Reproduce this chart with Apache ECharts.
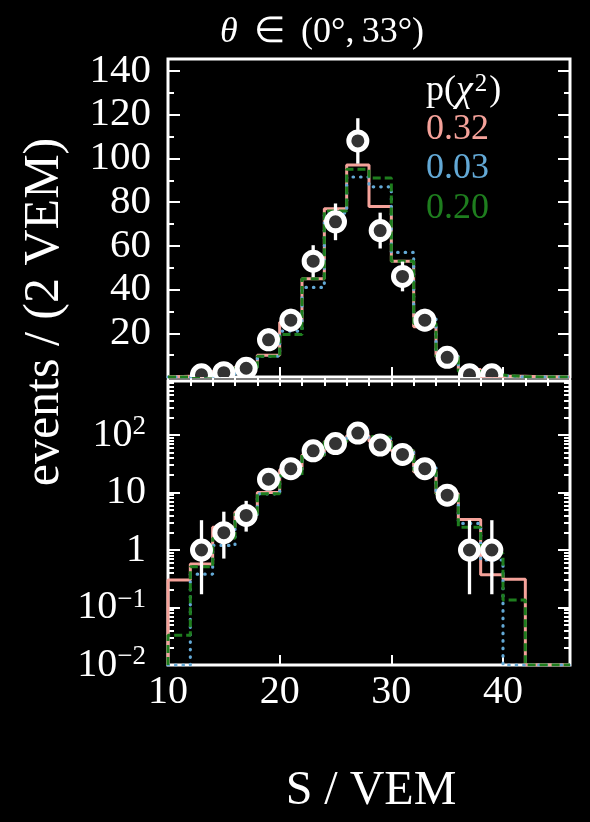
<!DOCTYPE html>
<html>
<head>
<meta charset="utf-8">
<script src="https://cdn.jsdelivr.net/npm/echarts@6/dist/echarts.min.js"></script>
<style>
html,body{margin:0;padding:0;background:#000;}
#c{width:590px;height:822px;}
</style>
</head>
<body>
<div id="c"></div>
<script>
// ---- data ----
const binEdges = [10,12,14,16,18,20,22,24,26,28,30,32,34,36,38,40,42,44,46];
// model histograms (events per 2 VEM bin)
const modelRed   = [0.30,0.57,2.5,4.6,10,25,45,77,97,78,53,23,9.5,3.4,0.37,0.31,0,0];   // p = 0.32
const modelBlue  = [0,0.38,1.2,3.6,9.5,21,41,75,91.5,87,57,27,10,2.9,0.67,0,0,0];      // p = 0.03
const modelGreen = [0.033,0.51,1.6,4.2,9.5,19.5,45,76,95,91,53,24.5,9.5,2.5,0.88,0.135,0,0]; // p = 0.20
// data points
const sCenters = [13,15,17,19,21,23,25,27,29,31,33,35,37,39];
const counts   = [1,2,4,17,26,53,71,108,67,46,26,9,1,1];
const errLow   = [0.17,0.71,2.09,13.0,21.0,45.7,62.6,97.6,58.8,39.2,21.0,6.1,0.17,0.17];
const errHigh  = [3.3,4.64,7.16,22.2,31.2,60.3,79.4,118.4,75.2,52.8,31.2,13.1,3.3,3.3];
const pValues  = ['0.32','0.03','0.20'];
const linTicks = [20,40,60,80,100,120,140];
const xTickLabels = [10,20,30,40];

const FONT = 'Liberation Serif';
const RED = '#f5a29a', BLUE = '#63a9d6', GREEN = '#1e7d1e';
const LOG_MIN = 0.01, LOG_MAX = 870;

function stepData(vals, floor) {
  const pts = [[binEdges[0], floor]];
  for (let i = 0; i < vals.length; i++) {
    const v = vals[i] > 0 ? vals[i] : floor;
    pts.push([binEdges[i], v]);
    pts.push([binEdges[i+1], v]);
  }
  return pts;
}
function pointData() {
  return sCenters.map((x, i) => [x, counts[i], errLow[i], errHigh[i]]);
}

const chart = echarts.init(document.getElementById('c'), null, {renderer: 'canvas'});

const tickStyle = {color: '#fff', width: 2};
function xMain(grid, labels) {
  return {type: 'value', gridIndex: grid, min: 10, max: 46, interval: 10,
    axisLine: {show: false}, splitLine: {show: false},
    axisTick: {show: true, inside: true, length: 10, lineStyle: tickStyle},
    axisLabel: {show: labels, color: '#fff', fontFamily: FONT, fontSize: 40, margin: 7,
      showMaxLabel: false,
      formatter: v => (xTickLabels.indexOf(v) >= 0 ? String(v) : '')}};
}
function xMinor(grid) {
  return {type: 'value', gridIndex: grid, min: 10, max: 46, interval: 2,
    axisLine: {show: false}, splitLine: {show: false}, axisLabel: {show: false},
    axisTick: {show: true, inside: true, length: 5, lineStyle: tickStyle}};
}
function yLin(pos, interval, len, labels) {
  return {type: 'value', gridIndex: 0, position: pos, min: 0, max: 145.5, interval: interval,
    axisLine: {show: false}, splitLine: {show: false},
    axisTick: {show: true, inside: true, length: len, lineStyle: tickStyle},
    axisLabel: {show: labels, color: '#fff', fontFamily: FONT, fontSize: 41, margin: 17,
      formatter: v => (linTicks.indexOf(v) >= 0 ? String(v) : '')}};
}
function yLog(pos, labels) {
  return {type: 'log', logBase: 10, gridIndex: 1, position: pos, min: LOG_MIN, max: LOG_MAX,
    axisLine: {show: false}, splitLine: {show: false},
    axisTick: {show: true, inside: true, length: 12, lineStyle: tickStyle},
    minorTick: {show: true, splitNumber: 9, length: 6, lineStyle: tickStyle},
    axisLabel: {show: labels, color: '#fff', fontFamily: FONT, fontSize: 40, margin: 22,
      formatter: function (v) {
        const e = Math.log10(v), r = Math.round(e);
        if (Math.abs(e - r) > 1e-6) return '';
        if (r === 0) return '1';
        if (r === 1) return '10';
        return '10{s|' + (r < 0 ? '\u2212' : '') + Math.abs(r) + '}';
      },
      rich: {s: {fontSize: 27, fontFamily: FONT, color: '#fff', verticalAlign: 'top', padding: [0, 0, 16, 0]}}}};
}

function histSeries(vals, color, type, grid, floor) {
  const ls = {color: color, width: 3, type: type};
  if (type === 'dotted') { ls.type = [0.5, 7]; ls.cap = 'round'; ls.width = 3.2; }
  if (type === 'dashed') { ls.type = [8, 4]; }
  return {type: 'line', xAxisIndex: grid * 2, yAxisIndex: grid === 0 ? 0 : 4,
    data: stepData(vals, floor), symbol: 'none', lineStyle: ls, clip: true,
    animation: false, silent: true, z: 3};
}
function errSeries(grid) {
  return {type: 'custom', xAxisIndex: grid * 2, yAxisIndex: grid === 0 ? 0 : 4, clip: true,
    data: pointData(), animation: false, silent: true, z: 4,
    renderItem: function (params, api) {
      const x = api.value(0);
      const a = api.coord([x, api.value(2)]), b = api.coord([x, api.value(3)]);
      return {type: 'line', shape: {x1: a[0], y1: a[1], x2: b[0], y2: b[1]},
        style: {stroke: '#fff', lineWidth: 3.3}};
    }};
}
function ptSeries(grid) {
  return {type: 'custom', xAxisIndex: grid * 2, yAxisIndex: grid === 0 ? 0 : 4, clip: true,
    data: pointData(), animation: false, silent: true, z: 5,
    renderItem: function (params, api) {
      const p = api.coord([api.value(0), api.value(1)]);
      return {type: 'circle', shape: {cx: p[0], cy: p[1], r: 9},
        style: {fill: '#333', stroke: '#fff', lineWidth: 5}};
    }};
}

function txt(x, y, text, size, fill, align, extra) {
  const s = {text: text, fill: fill, fontSize: size, fontFamily: FONT, align: align, verticalAlign: 'middle'};
  if (extra) Object.assign(s, extra);
  return {type: 'text', x: x, y: y, z: 10, style: s};
}

const option = {
  backgroundColor: '#000',
  animation: false,
  grid: [
    {left: 168, top: 59, width: 402, height: 318, show: true, borderColor: '#fff', borderWidth: 3, backgroundColor: 'transparent'},
    {left: 168, top: 381, width: 402, height: 284, show: true, borderColor: '#fff', borderWidth: 3, backgroundColor: 'transparent'}
  ],
  xAxis: [xMain(0, false), xMinor(0), xMain(1, true), xMinor(1)],
  yAxis: [yLin('left', 20, 12, true), yLin('left', 10, 6, false),
          yLin('right', 20, 12, false), yLin('right', 10, 6, false),
          yLog('left', true), yLog('right', false)],
  series: [
    histSeries(modelRed, RED, 'solid', 0, 0),
    histSeries(modelBlue, BLUE, 'dotted', 0, 0),
    histSeries(modelGreen, GREEN, 'dashed', 0, 0),
    errSeries(0), ptSeries(0),
    histSeries(modelRed, RED, 'solid', 1, LOG_MIN),
    histSeries(modelBlue, BLUE, 'dotted', 1, LOG_MIN),
    histSeries(modelGreen, GREEN, 'dashed', 1, LOG_MIN),
    errSeries(1), ptSeries(1)
  ],
  graphic: [
    txt(322, 33, '{i|\u03b8}{n| \u2009\u2208 \u2009(0\u00b0,\u200933\u00b0)}', 36, '#fff', 'center',
      {rich: {i: {fontStyle: 'italic', fontSize: 36, fontFamily: FONT, fill: '#fff'},
              n: {fontSize: 36, fontFamily: FONT, fill: '#fff'}}}),
    txt(426, 91, '{n|p(}{i|\u03c7}{s|2}{n|)}', 36, '#fff', 'left',
      {rich: {n: {fontSize: 36, fontFamily: FONT, fill: '#fff'},
              i: {fontStyle: 'italic', fontSize: 38, fontFamily: FONT, fill: '#fff', padding: [0, 2, 0, 0]},
              s: {fontSize: 25, fontFamily: FONT, fill: '#fff', verticalAlign: 'top', padding: [0, 2, 14, 0]}}}),
    txt(426, 130, pValues[0], 36, RED, 'left'),
    txt(426, 169, pValues[1], 36, BLUE, 'left'),
    txt(426, 209, pValues[2], 36, GREEN, 'left'),
    {type: 'text', x: 45, y: 312, rotation: Math.PI / 2, z: 10,
      style: {text: 'events / (2 VEM)', fill: '#fff', fontSize: 50, fontFamily: FONT, align: 'center', verticalAlign: 'middle'}},
    txt(371, 791, 'S / VEM', 48, '#fff', 'center')
  ]
};
chart.setOption(option);
</script>
</body>
</html>
